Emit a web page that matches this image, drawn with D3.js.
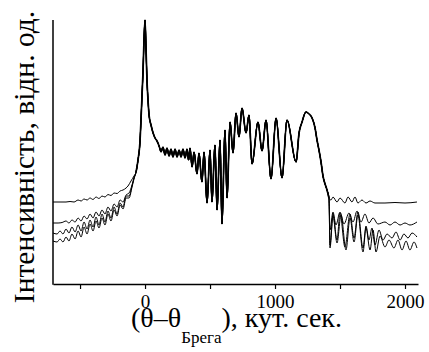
<!DOCTYPE html>
<html><head><meta charset="utf-8">
<script src="https://cdn.jsdelivr.net/npm/d3@7"></script>
<style>body{margin:0;background:#fff}svg{display:block}text{font-family:"Liberation Serif","Times New Roman",serif !important;fill:#000}</style>
</head><body>
<svg id="c" width="429" height="352"></svg>
<script>
// x: (θ−θБрега), arcsec ; y: relative intensity (arbitrary units)
const majorTicks = [0, 1000, 2000];
const minorTicks = [-500, 500, 1500];
const xLabel = "(θ–θ";
const xSub = "Брега";
const xLabelEnd = "), кут. сек.";
const yLabel = "Інтенсивність, відн. од.";

// common part of all four curves
const core = [[-69,112],[-54,124],[-38,144],[-31,164],[-23,189],[-15,214],[-8,244],[0,264],[8,234],[15,204],[23,184],[31,169],[46,159],[62,151],[77,146],[92,143],[108,138],[115,135],
[123,132],[138,137],[154,129],[169,136],[185,128],[200,135],[215,127],[231,135],[246,127],[262,134],[277,127],[292,135],[308,126],[323,135],[335,124],[346,136],
[362,117],[377,132],[400,110],[415,131],[438,102],[454,132],[477,81],[500,134],[515,82],[538,139],[554,74],[577,144],[592,60],[615,154],[631,86],[654,162],[677,131],[700,171],[723,147],[746,176],[777,151],[800,169],[823,120],[869,162],[900,133],[931,164],[969,105],[1008,166],[1054,106],[1092,164],[1162,122],[1185,151],[1208,162],[1238,172],[1262,170],[1285,166],[1308,156],[1323,144],[1338,134],[1354,122],[1369,108],[1385,100],[1400,94],[1415,86]];

const leftA = [[-708,82],[-654,82],[-608,82],[-577,82.5],[-546,82],[-515,84],[-492,83],[-469,85],[-446,84],[-423,86],[-400,84.5],[-377,87],[-354,85.5],[-331,88],[-308,87],[-285,89.5],[-262,88.5],[-238,91],[-215,90.5],[-192,93],[-169,94],[-146,96],[-131,98],[-108,103],[-85,108]];
const leftB = [[-708,61],[-669,61],[-638,61.5],[-608,63],[-585,61],[-562,64],[-538,62],[-515,66],[-492,63],[-469,68],[-446,65],[-423,70],[-400,66],[-377,72],[-354,68],[-331,74],[-308,70],[-285,77],[-262,73],[-238,80],[-215,77],[-192,84],[-169,82],[-146,89],[-123,91],[-100,99],[-85,106]];
const leftC = [[-708,51],[-677,50],[-654,53],[-631,50],[-608,55],[-585,51],[-562,57],[-538,52],[-515,59],[-492,53],[-469,62],[-446,55],[-423,64],[-400,57],[-377,67],[-354,59],[-331,70],[-308,62],[-285,73],[-262,66],[-238,77],[-215,70],[-192,81],[-169,77],[-146,88],[-123,88],[-100,98],[-85,106]];
const leftD = [[-708,43],[-677,42],[-654,45],[-631,42],[-608,47],[-585,43],[-562,50],[-538,45],[-515,53],[-492,47],[-469,57],[-446,50],[-423,60],[-400,53],[-377,63],[-354,56],[-331,66],[-308,59],[-285,70],[-262,63],[-238,74],[-215,68],[-192,79],[-169,75],[-146,86],[-123,86],[-100,97],[-85,105]];

const rightA = [[1431,84],[1446,87],[1477,82],[1500,86],[1538,81],[1562,87],[1592,82],[1615,87],[1638,81],[1669,84],[1700,81],[1731,83],[1769,81],[1846,81],[1923,81.5],[2000,81],[2092,82]];
const rightB = [[1423,54],[1446,72],[1469,59],[1500,72],[1531,60],[1569,71],[1600,62],[1631,73],[1662,62],[1692,70],[1723,61],[1754,66],[1792,60],[1846,62],[1885,59],[1923,62],[1962,59],[2000,61],[2038,59],[2092,62]];
const rightC = [[1423,39],[1446,70],[1477,44],[1500,71],[1538,37],[1577,70],[1608,46],[1638,72],[1677,36],[1700,58],[1723,44],[1746,56],[1769,39],[1800,54],[1831,44],[1862,50],[1900,46],[1931,52],[1962,44],[1992,50],[2023,46],[2054,51],[2092,47]];
const rightD = [[1423,36],[1446,68],[1477,41],[1508,69],[1546,34],[1577,66],[1608,42],[1638,69],[1677,32],[1700,56],[1731,34],[1754,54],[1777,32],[1808,48],[1846,37],[1877,44],[1915,36],[1946,44],[1977,34],[2008,43],[2038,34],[2069,42],[2092,36]];

const series = [
  leftA.concat(core, rightA),
  leftB.concat(core, rightB),
  leftC.concat(core, rightC),
  leftD.concat(core, rightD)
];

const FONT = "'Liberation Serif', 'Times New Roman', serif";
const svg = d3.select("#c");
const x = d3.scaleLinear().domain([-708, 2100]).range([53, 418]);
const y = d3.scaleLinear().domain([0, 264]).range([284, 20]);

const line = d3.line().x(d => x(d[0])).y(d => y(d[1])).curve(d3.curveMonotoneX);

svg.append("g").selectAll("path").data(series).join("path")
  .attr("d", line).attr("fill", "none").attr("stroke", "#000").attr("stroke-width", 1);
svg.append("path").datum(core).attr("d", line).attr("fill", "none").attr("stroke", "#000").attr("stroke-width", 1.7);

// axes
const gx = svg.append("g").attr("transform", "translate(0,284)");
gx.call(d3.axisBottom(x).tickValues(majorTicks.concat(minorTicks)).tickSize(5).tickSizeOuter(0).tickFormat(d => majorTicks.includes(d) ? d : ""));
gx.attr("font-family", FONT);
gx.select(".domain").attr("stroke-width", 1.5);
gx.selectAll(".tick line").attr("stroke-width", 1.2);
gx.selectAll(".tick text").attr("font-family", FONT).attr("font-size", 19).attr("dy", 0).attr("y", 24);

svg.append("line").attr("x1", 53).attr("x2", 53).attr("y1", y(264)).attr("y2", 284.7).attr("stroke", "#000").attr("stroke-width", 1.5);

const t = svg.append("text").attr("x", 131).attr("y", 327).attr("text-anchor", "start")
  .attr("font-family", FONT).attr("font-size", 28);
t.append("tspan").text(xLabel);
t.append("tspan").attr("font-size", 17).attr("dy", 16).text(xSub);
t.append("tspan").attr("dy", -16).text(xLabelEnd);

svg.append("text").attr("transform", "translate(34,157) rotate(-90)").attr("text-anchor", "middle")
  .attr("font-family", FONT).attr("font-size", 29.5).text(yLabel);
</script>
</body></html>
